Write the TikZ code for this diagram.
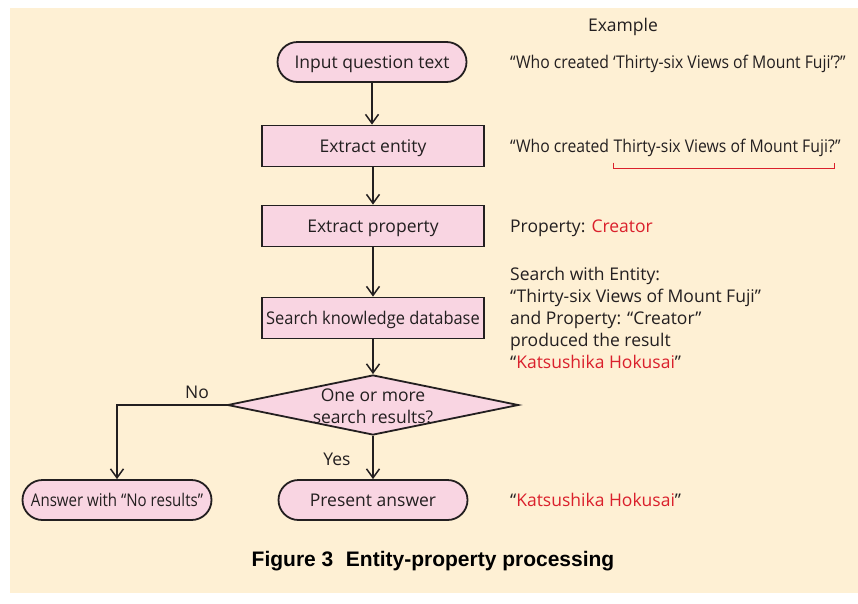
\documentclass[tikz,border=0pt]{standalone}
\usepackage{fontspec}
\setmainfont{Open Sans}
\newfontfamily\capfont{Liberation Sans}
\newfontfamily\narrowfont[FakeStretch=0.86]{Open Sans}
\newfontfamily\condfont[FakeStretch=0.9]{Open Sans}
\newfontfamily\slimfont[FakeStretch=0.94]{Open Sans}
\usetikzlibrary{shapes.geometric,arrows.meta,positioning}

\definecolor{bgpeach}{RGB}{254,240,212}
\definecolor{boxpink}{RGB}{249,213,226}
\definecolor{inkgray}{RGB}{35,31,32}
\definecolor{hired}{RGB}{218,32,44}

\newcommand{\txtsize}{\fontsize{17.5}{22}\selectfont}

\tikzset{
  flowline/.style={draw=inkgray, line width=1.5pt, -{Straight Barb[length=9pt,width=13pt,line width=1.5pt]}},
  boxtext/.style={font=\txtsize, text=inkgray, text height=16.6pt, text depth=4pt},
  procbox/.style={boxtext, draw=inkgray, fill=boxpink, line width=1.8pt, minimum width=222pt, minimum height=41pt, inner sep=0pt},
  termbox/.style={boxtext, draw=inkgray, fill=boxpink, line width=1.8pt, rounded corners=20pt, minimum width=189pt, minimum height=40pt, inner sep=0pt},
  decbox/.style={diamond, draw=inkgray, fill=boxpink, line width=1.8pt, aspect=4.85, minimum width=291pt, minimum height=60pt, inner sep=0pt},
  sidetext/.style={anchor=base west, inner sep=0pt, font=\txtsize, text=inkgray, align=left},
  lbl/.style={inner sep=0pt, anchor=base, font=\txtsize, text=inkgray},
}

\begin{document}
\begin{tikzpicture}[x=1pt,y=-1pt]
\useasboundingbox (0,0) rectangle (858,603);
\fill[bgpeach] (10,8) rectangle (858,593);

% flow nodes
\node[termbox] (input) at (372,62) {Input question text};
\node[procbox] (entity) at (373,146) {Extract entity};
\node[procbox] (prop) at (373,226) {Extract property};
\node[procbox, font=\slimfont\txtsize] (search) at (373,318) {Search knowledge database};
\node[decbox] (dec) at (373,405) {};
\node[inner sep=0pt, align=center, font=\txtsize, text=inkgray] (dectext) at (373,406) {One or more\\search results?};
\node[termbox, font=\narrowfont\txtsize] (nores) at (117,500) {Answer with “No results”};
\node[termbox] (answer) at (373,500) {Present answer};

% connectors
\draw[flowline] (input.south) -- (input.south |- entity.north);
\draw[flowline] (entity) -- (prop);
\draw[flowline] (prop) -- (search);
\draw[flowline] (search) -- (dec.north);
\draw[flowline] (dec.south) -- (answer);
\draw[flowline] (dec.west) -| (nores.north);
\node[lbl] (nolbl) at (197,398) {No};
\node[lbl] (yeslbl) at (337,465) {Yes};

% example column
\node[lbl] (exhead) at (623,31) {Example};
\node[sidetext, font=\condfont\txtsize] (ex1) at (510,68.5) {“Who created ‘Thirty-six Views of Mount Fuji’?”};
\node[sidetext, font=\condfont\txtsize] (ex2a) at (510,152.5) {“Who created };
\node[sidetext, font=\condfont\txtsize] (ex2b) at (ex2a.base east) {Thirty-six Views of Mount Fuji?};
\node[sidetext, font=\condfont\txtsize] (ex2c) at (ex2b.base east) {”};
\draw[hired, line width=1pt] ([yshift=-10pt]ex2b.base west) -- ([yshift=-16pt]ex2b.base west) -- ([yshift=-16pt]ex2b.base east) -- ([yshift=-10pt]ex2b.base east);
\node[sidetext] (ex3) at (510,232.5) {Property: \textcolor{hired}{Creator}};
\node[sidetext, anchor=west] (ex4) at (510,318) {Search with Entity:\\“Thirty-six Views of Mount Fuji”\\and Property: “Creator”\\produced the result\\“\textcolor{hired}{Katsushika Hokusai}”};
\node[sidetext] (ex5) at (510,506.5) {“\textcolor{hired}{Katsushika Hokusai}”};

% caption
\node[inner sep=0pt, anchor=base, font=\capfont\bfseries\fontsize{21}{24}\selectfont, text=black] (caption) at (433,566) {Figure 3\hspace{0.6em}Entity-property processing};
\end{tikzpicture}
\end{document}
